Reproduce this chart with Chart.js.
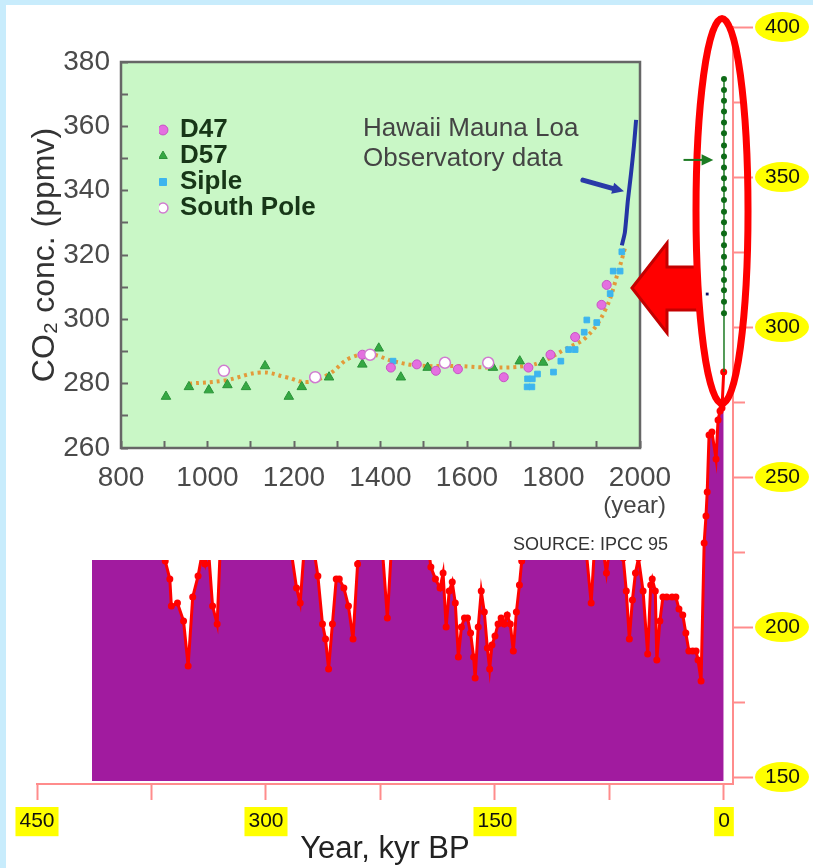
<!DOCTYPE html>
<html>
<head>
<meta charset="utf-8">
<script src="https://cdn.jsdelivr.net/npm/chart.js@4.4.1/dist/chart.umd.min.js"></script>
<style>
  html, body { margin: 0; padding: 0; background: #c8ecfc; }
  #wrap { position: relative; width: 813px; height: 868px; overflow: hidden; }
  #panel { position: absolute; left: 6px; top: 5px; right: 0; bottom: 0; background: #fff; }
  canvas { position: absolute; left: 0; top: 0; }
</style>
</head>
<body>
<div id="wrap">
  <div id="panel"></div>
  <canvas id="main" width="813" height="868"></canvas>
  <canvas id="inset" width="813" height="868"></canvas>
</div>
<script>
// Vostok ice core, age (kyr BP) and CO2 (ppmv)
const vostokAge = [
  414, 410, 405, 400, 396, 392, 388, 384, 380, 376,
  372, 368, 366, 363, 362, 358, 354, 351, 348, 344.5,
  342, 340, 338, 335, 332, 330, 327, 324, 320, 316,
  312, 308, 304, 300, 296, 292, 288, 284, 280, 277.6,
  275, 272, 269, 266, 263, 261, 259, 256.5, 254, 252,
  249, 246, 243, 240, 237, 234, 231, 228, 225, 223.5,
  220.5, 218, 215, 212, 209, 206, 203, 200, 197, 194,
  192, 189, 186, 184, 182, 180, 178, 176, 174, 172,
  170, 168, 166, 164, 163, 161, 159, 157, 155, 153.5,
  152, 150, 148, 146, 144, 142, 140, 138, 136, 134,
  132.5, 131, 129, 127, 125, 122, 119, 116, 113, 110,
  107, 104, 101, 98, 95, 92, 90, 87, 85, 82,
  79, 77, 75, 72, 69, 66, 64, 62, 60, 58,
  56, 53, 50, 48, 47, 45, 44, 42, 40, 37.5,
  34, 31.5, 29.5, 27, 25, 23, 20.5, 18.3, 17, 15,
  13, 11.8, 11, 9.8, 7.9, 5.2, 3.9, 2.6, 1.3, 0.2
];
const vostokCo2 = [
  279, 284, 287, 282, 276, 263, 251, 242, 244, 247,
  237, 229, 222, 216, 207, 208, 202, 187, 210, 217,
  224, 221, 228, 207, 201, 226, 246, 263, 279, 286,
  289, 284, 273, 263, 251, 241, 233, 227, 213, 208,
  226, 233, 227, 217, 201, 196, 186, 201, 216, 216,
  213, 207, 196, 221, 236, 248, 252, 244, 233, 224,
  203, 225, 238, 245, 250, 244, 237, 240, 235, 228,
  220, 216, 213, 218, 200, 212, 215, 208, 190, 200,
  203, 203, 198, 190, 183, 200, 212, 205, 193, 186,
  194, 197, 201, 203, 201, 204, 201, 192, 205, 214,
  222, 250, 272, 283, 280, 270, 262, 256, 249, 242,
  236, 232, 235, 232, 229, 226, 224, 208, 225, 229,
  225, 218, 226, 233, 229, 223, 212, 196, 209, 218,
  223, 212, 191, 214, 216, 212, 189, 202, 210, 210,
  210, 210, 206, 204, 198, 192, 192, 192, 189, 182,
  228, 237, 245, 264, 265, 256, 269, 272, 273, 285
];
// modern record plotted at 0 kyr
const mlBase = 285;
const mlDots = [304.6, 308.4, 312.3, 315.7, 319.6, 323.4, 327.3, 331.2, 334.9, 338.4, 342.3,
                346.0, 349.6, 353.2, 356.8, 360.5, 364.6, 368.2, 371.8, 375.4, 379.0, 382.7];
const strayDot = [{ x: 11, y: 311 }];

const mainXTicks = [450, 375, 300, 225, 150, 75, 0];
const mainYTicks = [400, 375, 350, 325, 300, 275, 250, 225, 200, 175, 150];

// inset (IPCC 95), year AD and CO2 (ppmv)
const d47Year = [1358, 1424, 1484, 1528, 1579, 1685, 1742, 1793, 1850, 1911, 1923];
const d47Co2 = [289, 285, 286, 284, 284.5, 282, 285, 289, 294.5, 304.5, 310.7];
const d57Year = [904, 957, 1003, 1046, 1089, 1133, 1188, 1218, 1281, 1358, 1396, 1447, 1509, 1660, 1722, 1776];
const d57Co2 = [276, 279, 278, 279.6, 279, 285.5, 276, 279, 282, 286, 291, 282, 285, 285, 287, 286.6];
const sipleYear = [1429, 1739, 1750, 1740, 1751, 1763, 1800, 1817, 1835, 1850, 1871, 1877, 1900, 1931, 1938, 1954, 1958];
const sipleCo2 = [287, 279, 279, 281.5, 281.5, 283, 283.6, 287, 290.6, 290.6, 296, 299.8, 299, 308, 315, 315, 321];
const spYear = [1038, 1249, 1376, 1549, 1649];
const spCo2 = [284, 282, 289, 286.5, 286.5];
const fitYear = [957, 1040, 1124, 1182, 1230, 1281, 1330, 1381, 1429, 1490, 1577, 1660, 1735, 1776, 1825, 1876, 1920, 1950, 1965];
const fitCo2 = [280, 281, 283.5, 282, 280.5, 283, 288, 289, 287, 285.6, 285.5, 285, 285.5, 287, 290.6, 294.5, 303, 315, 322];
const mlYear = [1958, 1965, 1972, 1979, 1986, 1991];
const mlCo2 = [323, 327, 337, 345, 354, 362];

const insetXTicks = [800, 900, 1000, 1100, 1200, 1300, 1400, 1500, 1600, 1700, 1800, 1900, 2000];
const insetYTicks = [260, 270, 280, 290, 300, 310, 320, 330, 340, 350, 360, 370, 380];

Chart.defaults.font.family = '"Liberation Sans", Arial, sans-serif';

function pairs(xs, ys) {
  return xs.map((x, i) => ({ x: x, y: ys[i] }));
}

const axisRed = '#ff8c8c';

// yellow ovals behind the right-hand labels
const yellowOvals = {
  id: 'yellowOvals',
  beforeDraw(chart) {
    const ctx = chart.ctx;
    const y = chart.scales.y;
    ctx.save();
    ctx.fillStyle = '#ffff00';
    mainYTicks.filter(v => v % 50 === 0).forEach(v => {
      ctx.beginPath();
      ctx.ellipse(782, y.getPixelForValue(v), 27, 15, 0, 0, Math.PI * 2);
      ctx.fill();
    });
    ctx.restore();
  }
};

const mainChart = new Chart(document.getElementById('main'), {
  type: 'line',
  data: {
    datasets: [
      {
        label: 'Vostok',
        data: pairs(vostokAge, vostokCo2),
        borderColor: '#ff0000',
        backgroundColor: '#a11b9f',
        fill: { value: 148.7 },
        borderWidth: 3,
        pointRadius: 3.5,
        pointBackgroundColor: '#ff0000',
        pointBorderWidth: 0,
        tension: 0,
        order: 2
      },
      {
        label: 'Mauna Loa',
        data: [{ x: 0, y: mlBase }].concat(mlDots.map(v => ({ x: 0, y: v }))),
        borderColor: '#1c7a22',
        borderWidth: 1.5,
        pointRadius: c => (c.dataIndex === 0 ? 0 : 3),
        pointBackgroundColor: '#0e6b17',
        pointBorderWidth: 0,
        order: 1
      },
      {
        label: 'dot',
        data: strayDot,
        showLine: false,
        pointStyle: 'rect',
        pointRadius: 2,
        backgroundColor: '#10106a',
        borderWidth: 0,
        order: 0
      }
    ]
  },
  options: {
    responsive: false,
    animation: false,
    layout: { padding: { left: 37, top: 27, right: 0, bottom: 0 } },
    plugins: { legend: { display: false }, tooltip: { enabled: false } },
    scales: {
      x: {
        type: 'linear',
        reverse: true,
        min: -5.9,
        max: 450,
        afterFit: s => { s.height = 84; },
        afterBuildTicks: s => { s.ticks = mainXTicks.map(v => ({ value: v })); },
        grid: { drawOnChartArea: false, color: axisRed, tickLength: 16, tickWidth: 2 },
        border: { color: axisRed, width: 2 },
        ticks: {
          callback: v => (v % 150 === 0 ? String(v) : ''),
          color: '#111',
          font: { size: 21 },
          padding: 9,
          maxRotation: 0,
          autoSkip: false,
          showLabelBackdrop: true,
          backdropColor: c => (c.tick && c.tick.value % 150 === 0 ? '#ffff00' : 'rgba(0,0,0,0)'),
          backdropPadding: { x: 4, y: 2 }
        },
        title: { display: true, text: 'Year, kyr BP', color: '#222', font: { size: 31 }, padding: { top: 0, bottom: 0 } }
      },
      y: {
        position: 'right',
        min: 147.7,
        max: 400,
        afterFit: s => { s.width = 80; },
        afterBuildTicks: s => { s.ticks = mainYTicks.map(v => ({ value: v })); },
        grid: {
          drawOnChartArea: false,
          color: axisRed,
          tickLength: 20,
          tickWidth: 2,
          tickBorderDash: c => (c.tick && c.tick.value % 50 === 0 ? [] : [11, 40])
        },
        border: { color: axisRed, width: 2 },
        ticks: {
          callback: v => (v % 50 === 0 ? String(v) : ''),
          color: '#111',
          font: { size: 21 },
          padding: 12,
          autoSkip: false
        }
      }
    }
  },
  plugins: [yellowOvals]
});

function arrowHead(ctx, x1, y1, x2, y2, size) {
  const a = Math.atan2(y2 - y1, x2 - x1);
  ctx.beginPath();
  ctx.moveTo(x2, y2);
  ctx.lineTo(x2 - size * Math.cos(a - 0.45), y2 - size * Math.sin(a - 0.45));
  ctx.lineTo(x2 - size * Math.cos(a + 0.45), y2 - size * Math.sin(a + 0.45));
  ctx.closePath();
  ctx.fill();
}

// inset box, its notes, and the marks laid over both charts
const insetFrame = {
  id: 'insetFrame',
  afterLayout(chart) {
    const lg = chart.legend;
    const dx = 159 - lg.left, dy = 117 - lg.top;
    lg.left += dx; lg.right += dx; lg.top += dy; lg.bottom += dy;
  },
  beforeDraw(chart) {
    const ctx = chart.ctx, a = chart.chartArea;
    ctx.save();
    ctx.fillStyle = '#ffffff';
    ctx.fillRect(6, 5, 674, 555);
    ctx.fillStyle = '#c9f7c6';
    ctx.fillRect(a.left, a.top, a.right - a.left, a.bottom - a.top);
    ctx.restore();
  },
  afterDraw(chart) {
    const ctx = chart.ctx, a = chart.chartArea;
    const xs = chart.scales.x, ys = chart.scales.y;
    ctx.save();
    ctx.strokeStyle = '#666';
    ctx.lineWidth = 2.5;
    ctx.strokeRect(a.left, a.top, a.right - a.left, a.bottom - a.top);

    ctx.fillStyle = '#444';
    ctx.textBaseline = 'middle';
    ctx.textAlign = 'left';
    ctx.font = '26px "Liberation Sans", Arial, sans-serif';
    ctx.fillText('Hawaii Mauna Loa', 363, 129);
    ctx.fillText('Observatory data', 363, 159);
    ctx.textAlign = 'right';
    ctx.font = '24px "Liberation Sans", Arial, sans-serif';
    ctx.fillText('(year)', 666, 506);
    ctx.fillStyle = '#333';
    ctx.font = '18px "Liberation Sans", Arial, sans-serif';
    ctx.fillText('SOURCE: IPCC 95', 668, 545);

    // pointer to the Mauna Loa curve
    const bx1 = xs.getPixelForValue(1868), by1 = ys.getPixelForValue(343.3);
    const bx2 = xs.getPixelForValue(1963), by2 = ys.getPixelForValue(339.8);
    ctx.strokeStyle = '#2a3aa8';
    ctx.fillStyle = '#2a3aa8';
    ctx.lineWidth = 5;
    ctx.lineCap = 'round';
    ctx.beginPath();
    ctx.moveTo(bx1, by1);
    ctx.lineTo(bx2 - 8, by2 - 2);
    ctx.stroke();
    arrowHead(ctx, bx1, by1, bx2, by2, 13);

    // big red arrow
    ctx.lineCap = 'butt';
    ctx.fillStyle = '#ff0000';
    ctx.strokeStyle = '#c40000';
    ctx.lineWidth = 3;
    ctx.lineJoin = 'miter';
    ctx.beginPath();
    ctx.moveTo(632, 288);
    ctx.lineTo(667, 243);
    ctx.lineTo(667, 267);
    ctx.lineTo(698, 267);
    ctx.lineTo(698, 310);
    ctx.lineTo(667, 310);
    ctx.lineTo(667, 333);
    ctx.closePath();
    ctx.fill();
    ctx.stroke();

    // marks in the main chart's coordinates
    const mx = mainChart.scales.x, my = mainChart.scales.y;
    const cx = mx.getPixelForValue(1.3);
    const top = my.getPixelForValue(402.8), bot = my.getPixelForValue(274.5);
    ctx.strokeStyle = '#ff0000';
    ctx.lineWidth = 7;
    ctx.beginPath();
    ctx.ellipse(cx, (top + bot) / 2, 26, (bot - top) / 2, 0, 0, Math.PI * 2);
    ctx.stroke();

    const gy = my.getPixelForValue(355.7);
    const gx1 = mx.getPixelForValue(26.5), gx2 = mx.getPixelForValue(7);
    ctx.strokeStyle = '#1c7a22';
    ctx.fillStyle = '#1c7a22';
    ctx.lineWidth = 2;
    ctx.beginPath();
    ctx.moveTo(gx1, gy);
    ctx.lineTo(gx2 - 8, gy);
    ctx.stroke();
    arrowHead(ctx, gx1, gy, gx2, gy, 13);
    ctx.restore();
  }
};

new Chart(document.getElementById('inset'), {
  type: 'scatter',
  data: {
    datasets: [
      { label: 'D47', data: pairs(d47Year, d47Co2), pointStyle: 'circle', pointRadius: 4.5,
        backgroundColor: '#e46fe0', borderColor: '#c752c4', borderWidth: 1, order: 2 },
      { label: 'D57', data: pairs(d57Year, d57Co2), pointStyle: 'triangle', pointRadius: 5.5,
        backgroundColor: '#35a843', borderColor: '#2a9338', borderWidth: 1, order: 3 },
      { label: 'Siple', data: pairs(sipleYear, sipleCo2), pointStyle: 'rect', pointRadius: 4,
        backgroundColor: '#3db5ee', borderColor: '#3db5ee', borderWidth: 1, order: 4 },
      { label: 'South Pole', data: pairs(spYear, spCo2), pointStyle: 'circle', pointRadius: 5.5,
        backgroundColor: '#ffffff', borderColor: '#d07bd0', borderWidth: 1.5, order: 1 },
      { label: 'fit', type: 'line', data: pairs(fitYear, fitCo2), borderColor: '#e39a3a',
        borderDash: [3, 4], borderWidth: 4, pointRadius: 0, tension: 0.4, order: 10 },
      { label: 'Mauna Loa', type: 'line', data: pairs(mlYear, mlCo2), borderColor: '#2435a5',
        borderWidth: 4, pointRadius: 0, tension: 0.2, order: 0 }
    ]
  },
  options: {
    responsive: false,
    animation: false,
    layout: { padding: { left: 0, top: 62, right: 173, bottom: 330 } },
    plugins: {
      legend: {
        position: 'chartArea',
        align: 'start',
        labels: {
          filter: it => it.datasetIndex < 4,
          sort: (a, b) => a.datasetIndex - b.datasetIndex,
          usePointStyle: true,
          boxWidth: 8,
          boxHeight: 7,
          padding: 0,
          color: '#173617',
          font: { size: 26, weight: 'bold' }
        }
      },
      tooltip: { enabled: false }
    },
    scales: {
      x: {
        type: 'linear',
        min: 800,
        max: 2000,
        afterFit: s => { s.height = 90; },
        afterBuildTicks: s => { s.ticks = insetXTicks.map(v => ({ value: v })); },
        grid: { drawOnChartArea: false, tickLength: -7, color: '#666', tickWidth: 2 },
        border: { display: false },
        ticks: {
          callback: v => (v % 200 === 0 ? String(v) : ''),
          color: '#4a4a4a',
          font: { size: 28 },
          padding: 20,
          maxRotation: 0,
          autoSkip: false
        }
      },
      y: {
        min: 260,
        max: 380,
        afterFit: s => { s.width = 121; },
        afterBuildTicks: s => { s.ticks = insetYTicks.map(v => ({ value: v })); },
        grid: { drawOnChartArea: false, tickLength: -7, color: '#666', tickWidth: 2 },
        border: { display: false },
        ticks: {
          callback: v => (v % 20 === 0 ? String(v) : ''),
          color: '#4a4a4a',
          font: { size: 28 },
          padding: 18,
          autoSkip: false
        },
        title: {
          display: true,
          text: 'CO\u2082 conc. (ppmv)',
          color: '#333',
          font: { size: 32 },
          padding: { top: 26, bottom: 0 }
        }
      }
    }
  },
  plugins: [insetFrame]
});
</script>
</body>
</html>
